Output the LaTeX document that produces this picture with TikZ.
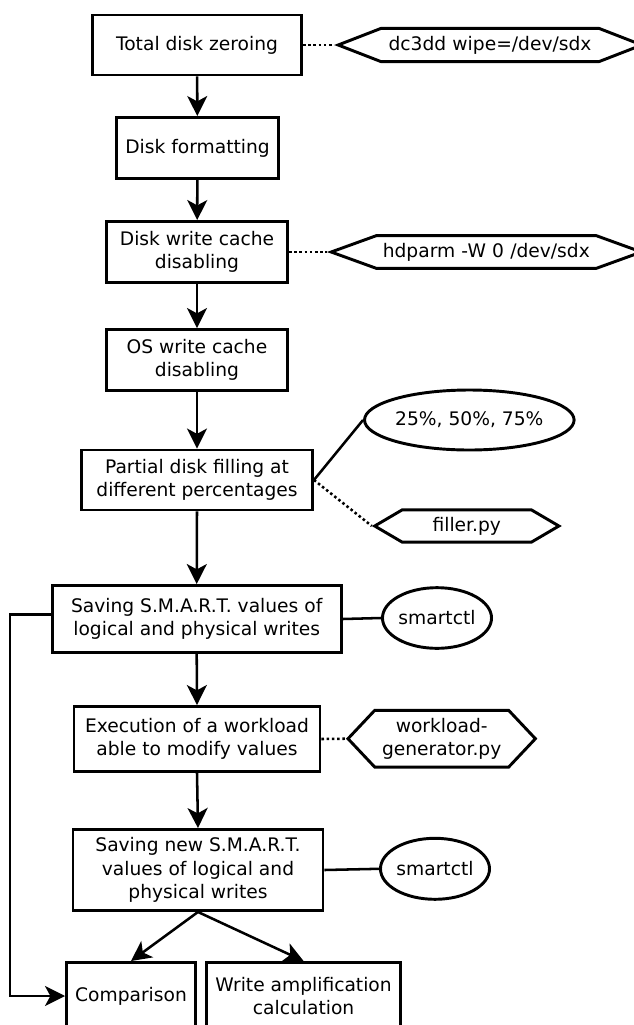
\documentclass[tikz,border=0pt]{standalone}
\usepackage{fontspec}
\setmainfont{DejaVu Sans}
\usetikzlibrary{shapes.geometric,shapes.symbols,arrows.meta}

\begin{document}
\begin{tikzpicture}[
  x=0.75pt,y=-0.75pt,
  font=\fontsize{14}{17.5}\selectfont,
  proc/.style={draw,line width=2.2pt,align=center,inner sep=0pt},
  tool/.style={signal,signal to=west and east,draw,line width=2.2pt,
    align=center,inner sep=0pt},
  val/.style={ellipse,draw,line width=2.2pt,inner sep=0pt},
  arr/.style={-{Stealth[length=15pt,width=15pt,inset=4pt]},line width=1.9pt},
  link/.style={line width=1.9pt},
  dots/.style={dotted,line width=1.9pt},
]
\useasboundingbox (0,0) rectangle (633,1025);

% === MAIN FLOW ===
\node[proc,minimum width=156.75pt,minimum height=45pt] (zero) at (197,45) {Total disk zeroing};
\node[proc,minimum width=121.5pt,minimum height=45.75pt] (fmt) at (197.5,148) {Disk formatting};
\node[proc,minimum width=135.75pt,minimum height=45.75pt] (dwc) at (197,252) {Disk write cache\\disabling};
\node[proc,minimum width=135.75pt,minimum height=45.75pt] (owc) at (197,360) {OS write cache\\disabling};
\node[proc,minimum width=173.25pt,minimum height=45pt] (fill) at (197,480) {Partial disk filling at\\different percentages};
\node[proc,minimum width=216.75pt,minimum height=50.25pt] (sav1) at (196.7,619) {Saving S.M.A.R.T. values of\\logical and physical writes};
\node[proc,minimum width=184.5pt,minimum height=48.75pt] (exec) at (197,739) {Execution of a workload\\able to modify values};
\node[proc,minimum width=187.5pt,minimum height=60.75pt] (sav2) at (198,870) {Saving new S.M.A.R.T.\\values of logical and\\physical writes};

% Results (cut by the page bottom)
\node[proc,minimum width=96.75pt,minimum height=50.25pt] (cmp) at (131,996) {Comparison};
\node[proc,minimum width=145.5pt,minimum height=50.25pt] (wamp) at (303.6,996) {Write amplification\\calculation};

% === TOOLS AND VALUES ===
\node[tool,text width=163.3pt,minimum height=25pt,signal pointer angle=42.4] (dcdd) at (490,45) {dc3dd wipe=/dev/sdx};
\node[tool,text width=165pt,minimum height=24.5pt,signal pointer angle=39.8] (hdp) at (486.3,252) {hdparm -W 0 /dev/sdx};
\node[val,minimum width=139.5pt,minimum height=45pt] (pct) at (469.3,420) {25\%, 50\%, 75\%};
\node[tool,text width=96.75pt,minimum height=24.3pt,signal pointer angle=60.8] (filler) at (466.8,526) {filler.py};
\node[val,minimum width=76.5pt,minimum height=45.5pt] (sctl1) at (437,618) {smartctl};
\node[tool,text width=100.5pt,minimum height=42.5pt,signal pointer angle=93.4] (wgen) at (441.7,738.7) {workload-\\generator.py};
\node[val,minimum width=78pt,minimum height=45.75pt] (sctl2) at (435,868.8) {smartctl};

% Flow arrows
\draw[arr] (zero) -- (fmt);
\draw[arr] (fmt) -- (dwc);
\draw[arr] (dwc) -- (owc);
\draw[arr] (owc) -- (fill);
\draw[arr] (fill.south) -- (sav1.north);
\draw[arr] (sav1.south) -- (exec.north);
\draw[arr] (exec.south) -- (sav2.north);
\draw[arr] (sav2.south) -- (cmp.north);
\draw[arr] (sav2.south) -- (wamp.north);

% Feedback to comparison
\draw[arr] ([yshift=3.5pt]sav1.west) -- ++(-40.6,0) |- (cmp.west);

% Tool links
\draw[dots] (zero.east) -- (dcdd.west);
\draw[dots] (dwc.east) -- (hdp.west);
\draw[link] (fill.east) -- (pct.west);
\draw[dots] (fill.east) -- (filler.west);
\draw[link] (sav1.east) -- (sctl1.west);
\draw[dots] (exec.east) -- (wgen.west);
\draw[link] (sav2.east) -- (sctl2.west);

\end{tikzpicture}
\end{document}
